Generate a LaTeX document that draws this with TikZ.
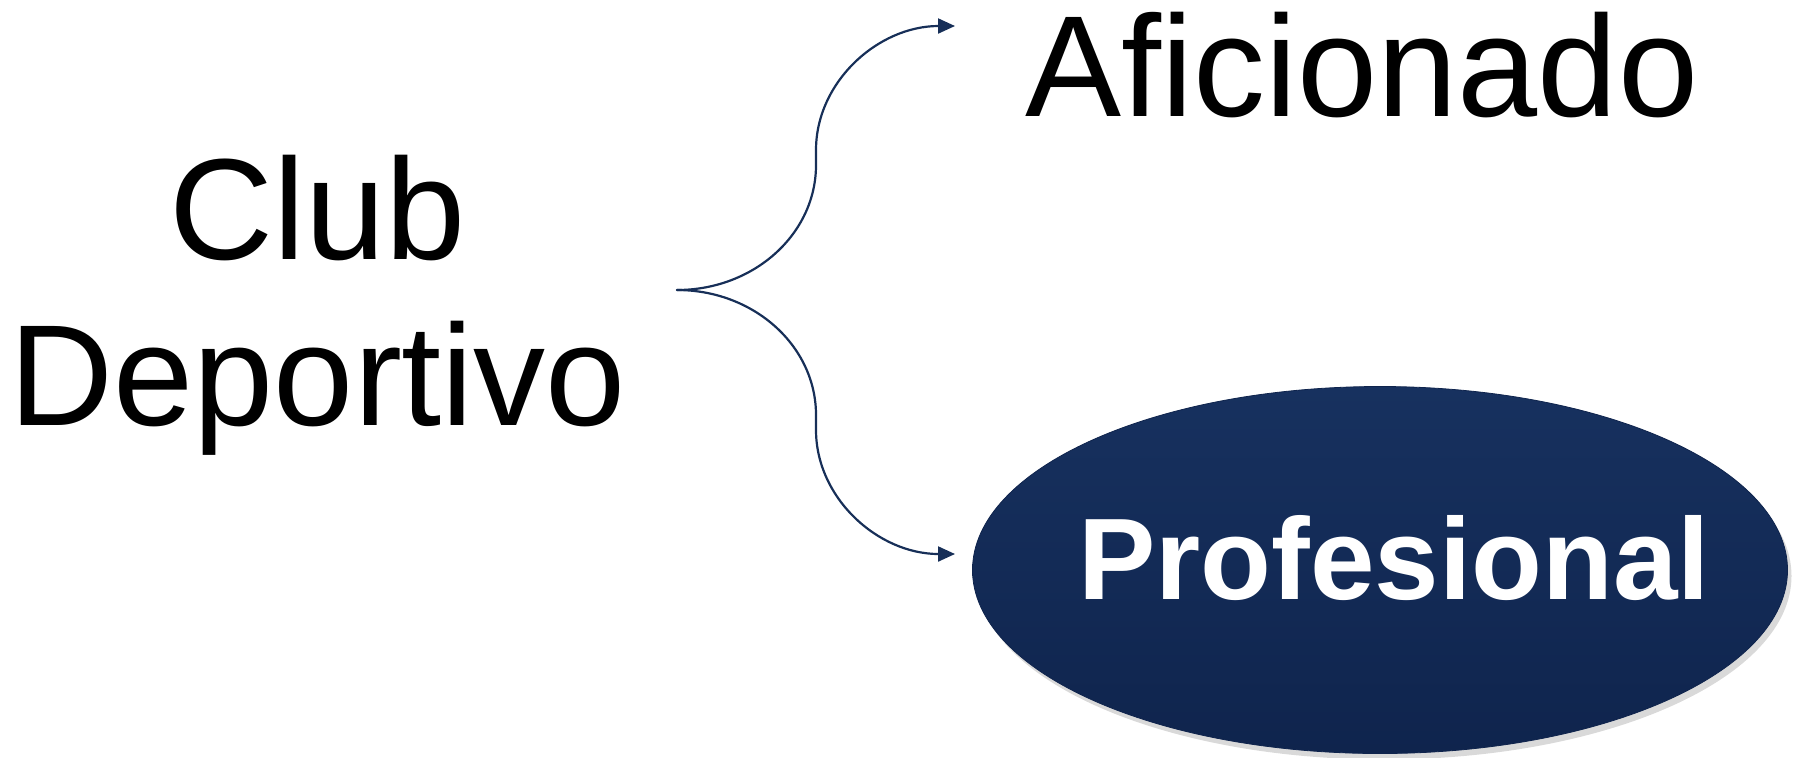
\documentclass[tikz,border=0pt]{standalone}
\usepackage{fontspec}
\setmainfont{Liberation Sans}
\usetikzlibrary{arrows.meta,shapes.geometric,shadows}

\definecolor{navy}{HTML}{132B59}
\definecolor{navytop}{HTML}{17315F}
\definecolor{navybot}{HTML}{0F244D}
\definecolor{braceline}{HTML}{172F58}

\tikzset{
  bigtext/.style={font=\fontsize{72}{83}\selectfont, inner sep=0pt},
  brace/.style={draw=braceline, line width=1.1pt, -{Triangle[length=8.5pt,width=7.5pt]}},
  pill/.style={ellipse, minimum width=407.5pt, minimum height=183.5pt, inner sep=0pt,
    top color=navytop, bottom color=navybot, draw=navybot, thin,
    drop shadow={opacity=0.3, shadow xshift=2pt, shadow yshift=-3pt},
    text=white, font=\fontsize{58}{66}\selectfont\bfseries}
}

\begin{document}
\begin{tikzpicture}[x=0.5pt, y=-0.5pt, line join=round, line cap=round]
	\useasboundingbox (0,0) rectangle (1798,757);
	
	% labels
	\node[bigtext, align=center, anchor=north] (club) at (318,155) {Club\\Deportivo};
	\node[bigtext, anchor=base] (afic) at (1362,116) {Aficionado};
	\node[pill] (prof) at (1380,570) {\raisebox{-14.5pt}[0pt][0pt]{\makebox[0pt]{\kern14pt Profesional}}};
	
	% brace ends
	\coordinate (fork) at (677,290);
	\coordinate (tipA) at (955,26);
	\coordinate (tipP) at (955,554);
	
	\draw[brace] (fork) .. controls +(77,0) and +(0,69) .. ++(139,-125)
		-- ++(0,-15) .. controls +(0,-68) and +(-77,0) .. (tipA);
	\draw[brace] (fork) .. controls +(77,0) and +(0,-69) .. ++(139,125)
		-- ++(0,15) .. controls +(0,68) and +(-77,0) .. (tipP);
\end{tikzpicture}
\end{document}
